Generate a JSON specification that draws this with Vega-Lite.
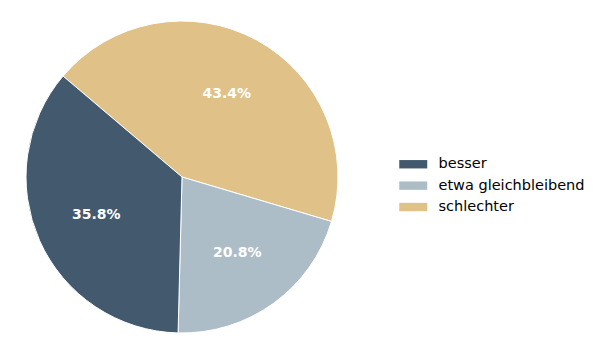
{
  "$schema": "https://vega.github.io/schema/vega-lite/v6.json",
  "width": 364,
  "height": 354,
  "autosize": "none",
  "padding": {"left": 0, "top": 0, "right": 236, "bottom": 0},
  "background": "white",
  "config": {"view": {"stroke": null}, "font": "DejaVu Sans"},
  "data": {
    "values": [
      {"kategorie": "schlechter", "anteil": 43.4, "beschriftung": "43.4%", "reihe": 1},
      {"kategorie": "etwa gleichbleibend", "anteil": 20.8, "beschriftung": "20.8%", "reihe": 2},
      {"kategorie": "besser", "anteil": 35.8, "beschriftung": "35.8%", "reihe": 3}
    ]
  },
  "encoding": {
    "theta": {"field": "anteil", "type": "quantitative", "stack": true, "scale": {"range": [-0.867, 5.416]}},
    "order": {"field": "reihe", "type": "quantitative"},
    "color": {
      "field": "kategorie",
      "type": "nominal",
      "scale": {
        "domain": ["besser", "etwa gleichbleibend", "schlechter"],
        "range": ["#435a6e", "#adbdc8", "#e0c289"]
      },
      "legend": {
        "title": null,
        "orient": "none",
        "legendX": 406,
        "legendY": 157,
        "padding": 0,
        "symbolType": "M-2,-0.6H2V0.6H-2Z",
        "symbolSize": 196,
        "symbolStrokeWidth": 0,
        "labelFont": "DejaVu Sans",
        "labelFontSize": 14.5,
        "labelColor": "#000000",
        "labelOffset": 18,
        "rowPadding": 6.4
      }
    }
  },
  "layer": [
    {
      "mark": {"type": "arc", "outerRadius": 156, "stroke": "white", "strokeWidth": 1}
    },
    {
      "mark": {"type": "text", "radius": 94, "font": "DejaVu Sans", "fontSize": 14, "fontWeight": "bold", "fill": "white"},
      "encoding": {
        "text": {"field": "beschriftung", "type": "nominal"},
        "color": {"value": "white"}
      }
    }
  ]
}
